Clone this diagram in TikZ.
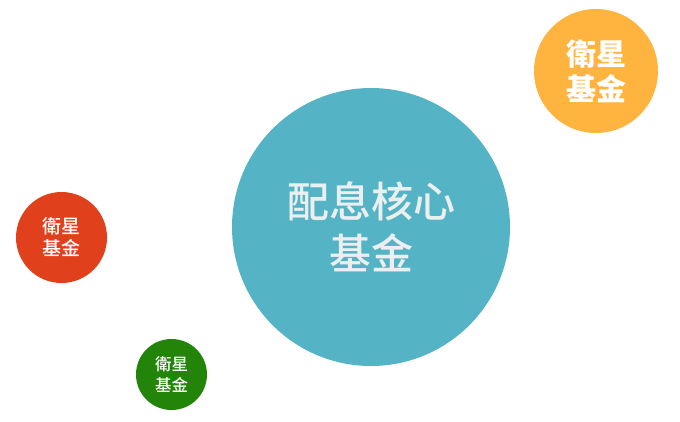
\documentclass[tikz,border=0pt]{standalone}
\usepackage{fontspec}
\newfontfamily\cjk{Noto Sans CJK TC}
\newfontfamily\cjkmed{Noto Sans CJK TC Medium}
\definecolor{coreteal}{HTML}{54B4C6}
\definecolor{satorange}{HTML}{FFB43F}
\definecolor{satred}{HTML}{E0401C}
\definecolor{satgreen}{HTML}{22850A}
\definecolor{coretext}{HTML}{ECEFF0}
\begin{document}
\begin{tikzpicture}[x=1pt,y=-1pt,
  fund/.style={circle,inner sep=0pt,align=center,text=white}]
  \useasboundingbox (0,0) rectangle (680,421);
  \node[fund,fill=coreteal,minimum size=278pt,text=coretext,
    font=\cjkmed\fontsize{42}{52}\selectfont] (core) at (371,227) {配息核心\\基金};
  \node[fund,fill=satorange,minimum size=124pt,
    font=\cjk\bfseries\fontsize{30}{35}\selectfont] (sat-1) at (596,71) {衛星\\基金};
  \node[fund,fill=satred,minimum size=91pt,
    font=\cjkmed\fontsize{19}{22}\selectfont] (sat-2) at (61.5,237.5) {衛星\\基金};
  \node[fund,fill=satgreen,minimum size=71pt,
    font=\cjkmed\fontsize{16.5}{20.5}\selectfont] (sat-3) at (171.5,374.5) {衛星\\基金};
\end{tikzpicture}
\end{document}
